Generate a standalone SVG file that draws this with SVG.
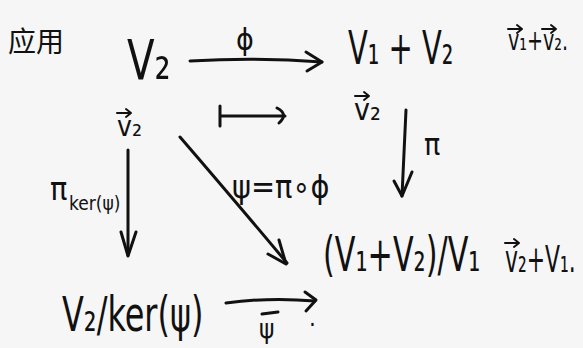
<svg xmlns="http://www.w3.org/2000/svg" width="583" height="348" viewBox="0 0 583 348">
<style>
.t{font-family:"DejaVu Sans Condensed","DejaVu Sans",sans-serif;fill:#111}
.cjk{font-family:"Noto Sans CJK SC",sans-serif;fill:#111}
.ln{stroke:#111;stroke-width:3;fill:none;stroke-linecap:round;stroke-linejoin:round}
.va{stroke:#111;stroke-width:2;fill:none;stroke-linecap:round;stroke-linejoin:round}
</style>
<defs>
<path id="vec" class="va" d="M0 0 L14 0 M9 -4 L14 0 L9 4"/>
</defs>
<rect width="583" height="348" fill="#f6f6f6"/>
<g id="title"><text class="cjk" x="8" y="52" font-size="28">应用</text></g>
<g id="n-V2">
<text class="t" font-size="56" transform="translate(127 79) scale(0.8 1)">V₂</text>
<text class="t" x="117" y="136" font-size="28">v₂</text>
<use href="#vec" x="117" y="113"/>
</g>
<g id="n-V1V2">
<text class="t" font-size="46" transform="translate(348 64) scale(0.7 1)">V₁ + V₂</text>
<text class="t" font-size="28" transform="translate(508 50) scale(0.76 1)">v₁+v₂.</text>
<use href="#vec" x="508" y="29"/>
<use href="#vec" x="542" y="29"/>
<text class="t" x="354" y="120" font-size="30">v₂</text>
<use href="#vec" x="355" y="96"/>
</g>
<g id="n-quot">
<text class="t" font-size="48" transform="translate(323 271) scale(0.7 1)">(V₁+V₂)/V₁</text>
<text class="t" font-size="38" transform="translate(505 272) scale(0.64 1)">v₂+V₁.</text>
<use href="#vec" x="505" y="243"/>
</g>
<g id="n-V2ker">
<text class="t" font-size="48" transform="translate(62 331) scale(0.74 1)">V₂/ker(ψ)</text>
</g>
<g id="connectors">
<g id="e-phi">
<path class="ln" d="M190 61 Q258 57 322 62"/>
<path class="ln" d="M306 52 L322 62 L307 71"/>
<text class="t" x="245" y="50" font-size="30" text-anchor="middle">ϕ</text>
</g>
<g id="e-mapsto">
<path class="ln" d="M220 106 L220 126 M220 116 L285 116"/>
<path class="ln" d="M277 108 Q289 114 279 123"/>
</g>
<g id="e-pi">
<path class="ln" d="M406 110 L402 196"/>
<path class="ln" d="M394 181 L402 196 L412 172"/>
<text class="t" x="424" y="155" font-size="30">π</text>
</g>
<g id="e-pik">
<path class="ln" d="M128 150 L128 255"/>
<path class="ln" d="M121 232 L128 256 L136 232"/>
<text class="t" x="50" y="200" font-size="32">π</text>
<text class="t" x="69" y="210" font-size="19">ker(ψ)</text>
</g>
<g id="e-psi">
<path class="ln" d="M180 137 Q230 195 287 263"/>
<path class="ln" d="M279 240 L286 264 L268 254"/>
<text class="t" x="232" y="198" font-size="32">ψ=π∘ϕ</text>
</g>
<g id="e-psibar">
<path class="ln" d="M226 303 Q270 297 315 301"/>
<path class="ln" d="M305 292 L316 300 L306 311"/>
<path class="ln" d="M262 314 L278 312"/>
<text class="t" x="259" y="338" font-size="26">ψ</text>
<text class="t" x="309" y="326" font-size="24">.</text>
</g>
</g>
</svg>
